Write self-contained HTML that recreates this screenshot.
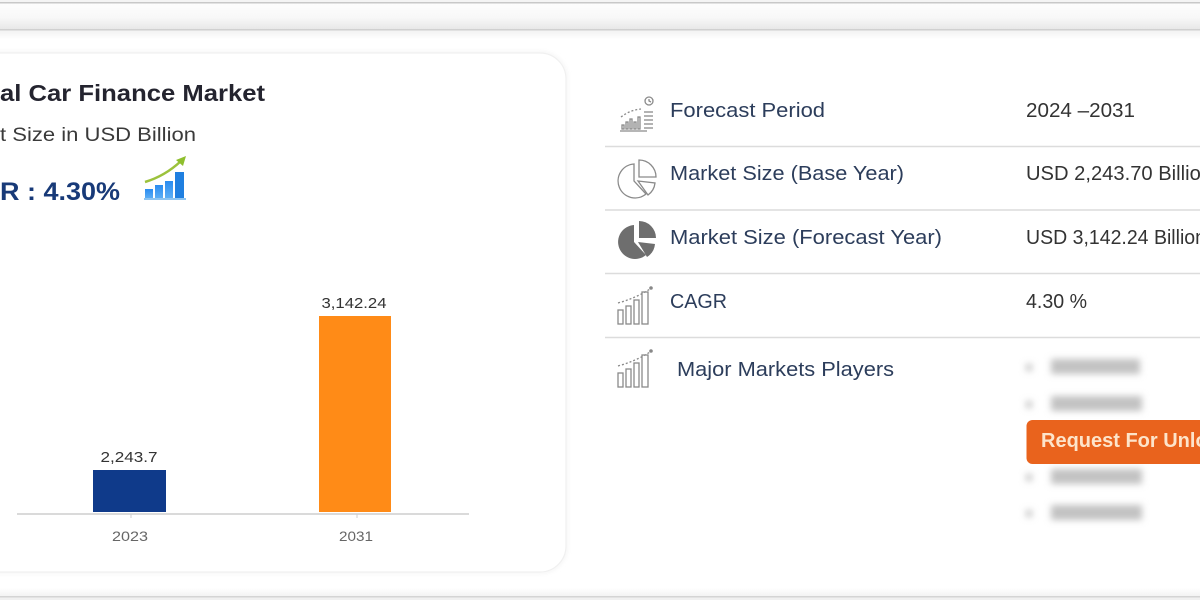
<!DOCTYPE html>
<html><head><meta charset="utf-8"><style>
html,body{margin:0;padding:0;background:#fff;width:1200px;height:600px;overflow:hidden}
svg{display:block}
</style></head><body>
<svg width="1200" height="600" viewBox="0 0 1200 600" xmlns="http://www.w3.org/2000/svg" font-family="'Liberation Sans', sans-serif">
<defs>
<linearGradient id="topg" x1="0" y1="0" x2="0" y2="1">
<stop offset="0" stop-color="#fdfdfd"/><stop offset="0.55" stop-color="#f8f8f8"/><stop offset="1" stop-color="#e8e8e8"/>
</linearGradient>
<linearGradient id="belowg" x1="0" y1="0" x2="0" y2="1">
<stop offset="0" stop-color="#f2f2f2"/><stop offset="1" stop-color="#ffffff"/>
</linearGradient>
<linearGradient id="botg" x1="0" y1="0" x2="0" y2="1">
<stop offset="0" stop-color="#ffffff"/><stop offset="1" stop-color="#f3f3f3"/>
</linearGradient>
<linearGradient id="barg" x1="0" y1="0" x2="0" y2="1">
<stop offset="0" stop-color="#2a8cf0"/><stop offset="1" stop-color="#5fb0f5"/>
</linearGradient>
<filter id="blur" x="-20%" y="-80%" width="140%" height="260%"><feGaussianBlur stdDeviation="3.5"/></filter>
<filter id="sh" x="-5%" y="-5%" width="110%" height="110%"><feGaussianBlur stdDeviation="2.5"/></filter>
</defs>
<rect width="1200" height="600" fill="#fff"/>
<!-- top bar -->
<rect x="0" y="0" width="1200" height="2" fill="#f4f4f4"/>
<rect x="0" y="2" width="1200" height="1.5" fill="#c8c8c8"/>
<rect x="0" y="3.5" width="1200" height="25.5" fill="url(#topg)"/>
<rect x="0" y="29" width="1200" height="1.5" fill="#d0d0d0"/>
<rect x="0" y="30.5" width="1200" height="9" fill="url(#belowg)"/>
<!-- bottom line -->
<rect x="0" y="588" width="1200" height="8" fill="url(#botg)"/>
<rect x="0" y="596" width="1200" height="1.5" fill="#d4d4d4"/>
<rect x="0" y="597.5" width="1200" height="2.5" fill="#f0f0f0"/>

<!-- card -->
<rect x="-40" y="53" width="606" height="519" rx="26" fill="none" stroke="#ececec" stroke-width="2" filter="url(#sh)"/>
<rect x="-40" y="53" width="606" height="519" rx="26" fill="#fff" stroke="#f0f0f0" stroke-width="1.2"/>

<!-- headings -->
<text x="-1" y="101" font-size="23" font-weight="bold" fill="#24242f" text-anchor="end">Glob</text>
<text x="0" y="101" font-size="23" font-weight="bold" fill="#24242f" textLength="265" lengthAdjust="spacingAndGlyphs">al Car Finance Market</text>
<text x="-1" y="141" font-size="19.5" fill="#3a3a3a" text-anchor="end">Marke</text>
<text x="0" y="141" font-size="19.5" fill="#3a3a3a" textLength="196" lengthAdjust="spacingAndGlyphs">t Size in USD Billion</text>
<text x="-1" y="200" font-size="25" font-weight="bold" fill="#183a78" text-anchor="end">CAG</text>
<text x="0" y="200" font-size="25" font-weight="bold" fill="#183a78" textLength="120" lengthAdjust="spacingAndGlyphs">R : 4.30%</text>

<!-- cagr icon -->
<g>
<rect x="145" y="189" width="8" height="10" fill="url(#barg)"/>
<rect x="155" y="185" width="8" height="14" fill="url(#barg)"/>
<rect x="165" y="181" width="8" height="18" fill="url(#barg)"/>
<rect x="175" y="172" width="9" height="27" fill="#1f7fe0"/>
<rect x="144" y="198" width="42" height="2" fill="#8cc4f2"/>
<path d="M145,182 Q165,176 181,161" fill="none" stroke="#9cc23c" stroke-width="2.5"/>
<path d="M176,160 L186,156 L183,166 Z" fill="#8fbf2e"/>
</g>

<!-- chart -->
<line x1="17" y1="514" x2="469" y2="514" stroke="#dadada" stroke-width="2"/>
<line x1="131" y1="514" x2="131" y2="518" stroke="#cfcfcf" stroke-width="1"/>
<line x1="357" y1="514" x2="357" y2="518" stroke="#cfcfcf" stroke-width="1"/>
<rect x="93" y="470" width="73" height="42" fill="#0f3a8a"/>
<rect x="319" y="316" width="72" height="196" fill="#ff8b17"/>
<text x="129" y="462" font-size="15" fill="#333" text-anchor="middle" textLength="57" lengthAdjust="spacingAndGlyphs">2,243.7</text>
<text x="354" y="308" font-size="15" fill="#333" text-anchor="middle" textLength="65" lengthAdjust="spacingAndGlyphs">3,142.24</text>
<text x="130" y="541" font-size="14" fill="#666" text-anchor="middle" textLength="36" lengthAdjust="spacingAndGlyphs">2023</text>
<text x="356" y="541" font-size="14" fill="#666" text-anchor="middle" textLength="34" lengthAdjust="spacingAndGlyphs">2031</text>

<!-- right table separators -->
<g stroke="#dcdcdc" stroke-width="1.5">
<line x1="605" y1="146.5" x2="1200" y2="146.5"/>
<line x1="605" y1="210" x2="1200" y2="210"/>
<line x1="605" y1="273.5" x2="1200" y2="273.5"/>
<line x1="605" y1="337.5" x2="1200" y2="337.5"/>
</g>

<!-- labels -->
<g font-size="20" fill="#2c3d5b">
<text x="670" y="117" textLength="155" lengthAdjust="spacingAndGlyphs">Forecast Period</text>
<text x="670" y="180" textLength="234" lengthAdjust="spacingAndGlyphs">Market Size (Base Year)</text>
<text x="670" y="244" textLength="272" lengthAdjust="spacingAndGlyphs">Market Size (Forecast Year)</text>
<text x="670" y="308" textLength="57" lengthAdjust="spacingAndGlyphs">CAGR</text>
<text x="677" y="376" textLength="217" lengthAdjust="spacingAndGlyphs">Major Markets Players</text>
</g>
<g font-size="20" fill="#333">
<text x="1026" y="117" textLength="109" lengthAdjust="spacingAndGlyphs">2024 –2031</text>
<text x="1026" y="180" textLength="186" lengthAdjust="spacingAndGlyphs">USD 2,243.70 Billion</text>
<text x="1026" y="244" textLength="180" lengthAdjust="spacingAndGlyphs">USD 3,142.24 Billion</text>
<text x="1026" y="308" textLength="61" lengthAdjust="spacingAndGlyphs">4.30 %</text>
</g>

<!-- icons -->
<g stroke="#8a8a8a" fill="none" stroke-width="1.3">
<!-- forecast -->
<line x1="620" y1="131" x2="647" y2="131"/>
<rect x="622" y="125" width="2" height="4"/>
<rect x="626" y="122" width="2" height="7"/>
<rect x="630" y="119" width="2" height="10"/>
<rect x="634" y="122" width="2" height="7"/>
<rect x="638" y="117" width="2" height="12"/>
<path d="M621,117 Q630,110 641,109" stroke-dasharray="2,2"/>
<circle cx="649" cy="101" r="4"/>
<path d="M649,99 L649,101 L651,102"/>
<line x1="644" y1="112" x2="653" y2="112"/>
<line x1="644" y1="116" x2="653" y2="116"/>
<line x1="644" y1="120" x2="653" y2="120"/>
<line x1="644" y1="124" x2="653" y2="124"/>
<line x1="644" y1="128" x2="653" y2="128"/>
<!-- pie outline -->
<path d="M634,164 A17,17 0 1,0 646,194 L634,181 Z"/>
<path d="M639,160 L639,177 L656,177 A17,17 0 0,0 639,160 Z"/>
<path d="M638,181 L655,183 A17,17 0 0,1 648,195 Z"/>
<!-- cagr icon -->
<rect x="618" y="310" width="5" height="14"/>
<rect x="626" y="306" width="5" height="18"/>
<rect x="634" y="300" width="5" height="24"/>
<rect x="642" y="292" width="6" height="32"/>
<path d="M618,303 Q636,298 650,289" stroke-dasharray="2,2"/>
<!-- players icon -->
<rect x="618" y="373" width="5" height="14"/>
<rect x="626" y="369" width="5" height="18"/>
<rect x="634" y="363" width="5" height="24"/>
<rect x="642" y="355" width="6" height="32"/>
<path d="M618,366 Q636,361 650,352" stroke-dasharray="2,2"/>
</g>
<circle cx="651" cy="288" r="1.8" fill="#888"/>
<circle cx="651" cy="351" r="1.8" fill="#888"/>
<!-- filled pie -->
<g fill="#6e6e6e">
<path d="M634,225 A17,17 0 1,0 646,255 L634,242 Z"/>
<path d="M639,221 L639,238 L656,238 A17,17 0 0,0 639,221 Z"/>
<path d="M638,242 L655,244 A17,17 0 0,1 647,257 Z"/>
</g>

<!-- blurred list -->
<g fill="#c2c2c2" filter="url(#blur)">
<rect x="1026" y="364" width="6" height="7"/>
<rect x="1051" y="359" width="89" height="15"/>
<rect x="1026" y="401" width="6" height="7"/>
<rect x="1051" y="396" width="91" height="15"/>
<rect x="1026" y="474" width="6" height="7"/>
<rect x="1051" y="469" width="91" height="15"/>
<rect x="1026" y="510" width="6" height="7"/>
<rect x="1051" y="505" width="91" height="15"/>
</g>

<!-- button -->
<rect x="1026.5" y="420" width="200" height="44" rx="6" fill="#e9631d"/>
<text x="1041" y="447" font-size="20" font-weight="bold" fill="#fde4ca">Request For Unlock Full Report</text>
</svg>
</body></html>
